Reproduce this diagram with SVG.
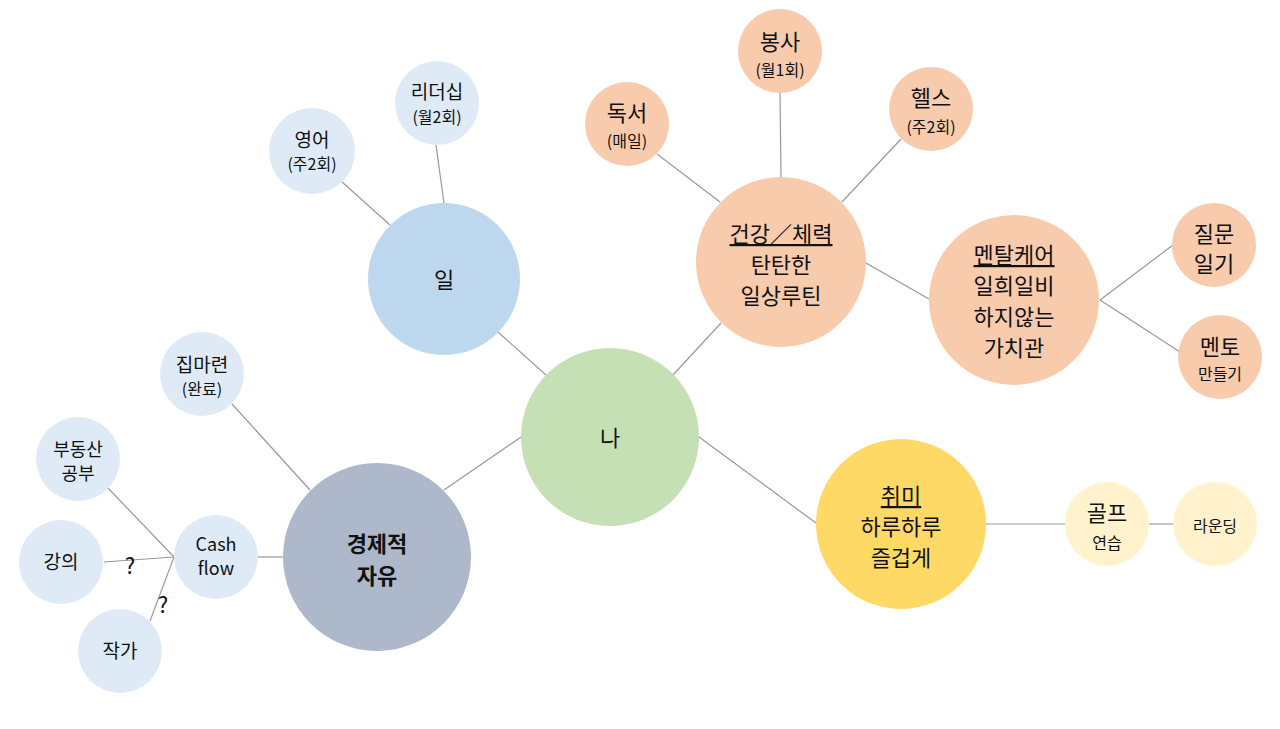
<svg xmlns="http://www.w3.org/2000/svg" width="1280" height="729" viewBox="0 0 1280 729">
<style>
text{font-family:"Noto Sans CJK KR","Noto Sans",sans-serif;fill:#111;text-anchor:middle}
.l{stroke:#999;stroke-width:1.2;fill:none}
.lg{font-size:22px}
.md{font-size:19px}
.ms{font-size:18px}
.sm{font-size:16px}
.u{text-decoration:underline}
.g{fill:#c5e0b4}.b{fill:#bdd7ee}.bl{fill:#deebf7}.o{fill:#f8cbad}.y{fill:#ffd966}.yl{fill:#fff2cc}.s{fill:#adb9ca}
</style>
<rect width="1280" height="729" fill="#fff"/>
<g id="connectors">
<line class="l" x1="546" y1="375" x2="498" y2="332"/>
<line class="l" x1="341" y1="181" x2="390" y2="225"/>
<line class="l" x1="436" y1="145" x2="444" y2="203"/>
<line class="l" x1="673" y1="375" x2="721" y2="323"/>
<line class="l" x1="657" y1="154" x2="720" y2="202"/>
<line class="l" x1="780" y1="93" x2="781" y2="177"/>
<line class="l" x1="901" y1="139" x2="842" y2="202"/>
<line class="l" x1="866" y1="263" x2="929" y2="299"/>
<line class="l" x1="1100" y1="300" x2="1173" y2="245"/>
<line class="l" x1="1100" y1="300" x2="1180" y2="352"/>
<line class="l" x1="699" y1="437" x2="816" y2="523"/>
<line class="l" x1="986" y1="524" x2="1065" y2="524"/>
<line class="l" x1="1149" y1="524" x2="1173" y2="524"/>
<line class="l" x1="521" y1="437" x2="444" y2="490"/>
<line class="l" x1="232" y1="404" x2="310" y2="490"/>
<line class="l" x1="258" y1="557" x2="283" y2="557"/>
<line class="l" x1="108" y1="488" x2="174" y2="557"/>
<line class="l" x1="104" y1="562" x2="174" y2="557"/>
<line class="l" x1="150" y1="621" x2="174" y2="557"/>
</g>
<g id="n-na"><circle class="g" cx="610" cy="437" r="89"/><text class="lg" x="610" y="446">나</text></g>
<g id="n-il"><circle class="b" cx="444" cy="279" r="76"/><text class="lg" x="444" y="288">일</text></g>
<g id="n-eng"><circle class="bl" cx="312" cy="151" r="43"/><text class="md" x="312" y="147">영어</text><text class="sm" x="312" y="170">(주2회)</text></g>
<g id="n-lead"><circle class="bl" cx="437" cy="103" r="42"/><text class="md" x="437" y="99">리더십</text><text class="sm" x="437" y="123">(월2회)</text></g>
<g id="n-health"><circle class="o" cx="781" cy="262" r="85"/><text class="lg u" x="781" y="242">건강／체력</text><text class="lg" x="781" y="273">탄탄한</text><text class="lg" x="781" y="304">일상루틴</text></g>
<g id="n-read"><circle class="o" cx="627" cy="124" r="42"/><text class="lg" x="627" y="121">독서</text><text class="sm" x="627" y="147">(매일)</text></g>
<g id="n-vol"><circle class="o" cx="780" cy="51" r="42"/><text class="lg" x="780" y="50">봉사</text><text class="sm" x="780" y="76">(월1회)</text></g>
<g id="n-gym"><circle class="o" cx="931" cy="109" r="42"/><text class="lg" x="931" y="106">헬스</text><text class="sm" x="931" y="133">(주2회)</text></g>
<g id="n-mental"><circle class="o" cx="1014" cy="300" r="85"/><text class="lg u" x="1014" y="263">멘탈케어</text><text class="lg" x="1014" y="294">일희일비</text><text class="lg" x="1014" y="325">하지않는</text><text class="lg" x="1014" y="356">가치관</text></g>
<g id="n-diary"><circle class="o" cx="1214" cy="245" r="42"/><text class="lg" x="1214" y="242">질문</text><text class="lg" x="1214" y="272">일기</text></g>
<g id="n-mentor"><circle class="o" cx="1220" cy="357" r="42"/><text class="lg" x="1220" y="355">멘토</text><text class="sm" x="1220" y="380">만들기</text></g>
<g id="n-hobby"><circle class="y" cx="901" cy="524" r="85"/><text class="lg u" x="901" y="504">취미</text><text class="lg" x="901" y="535">하루하루</text><text class="lg" x="901" y="566">즐겁게</text></g>
<g id="n-golf"><circle class="yl" cx="1107" cy="524" r="42"/><text class="lg" x="1107" y="521">골프</text><text class="sm" x="1107" y="549">연습</text></g>
<g id="n-round"><circle class="yl" cx="1215" cy="524" r="42"/><text class="sm" x="1215" y="532">라운딩</text></g>
<g id="n-econ"><circle class="s" cx="377" cy="557" r="94"/><text class="lg" font-weight="bold" x="377" y="552">경제적</text><text class="lg" font-weight="bold" x="377" y="584">자유</text></g>
<g id="n-house"><circle class="bl" cx="202" cy="374" r="42"/><text class="md" x="202" y="372">집마련</text><text class="sm" x="202" y="395">(완료)</text></g>
<g id="n-estate"><circle class="bl" cx="78" cy="459" r="42"/><text class="ms" x="78" y="456">부동산</text><text class="ms" x="78" y="480">공부</text></g>
<g id="n-cash"><circle class="bl" cx="216" cy="557" r="42"/><text class="ms" x="216" y="551">Cash</text><text class="ms" x="216" y="575">flow</text></g>
<g id="n-lecture"><circle class="bl" cx="61" cy="562" r="42"/><text class="md" x="61" y="569">강의</text></g>
<g id="n-writer"><circle class="bl" cx="120" cy="651" r="42"/><text class="md" x="120" y="658">작가</text></g>
<text class="lg" x="130" y="574">?</text>
<text class="lg" x="163" y="613">?</text>
</svg>
